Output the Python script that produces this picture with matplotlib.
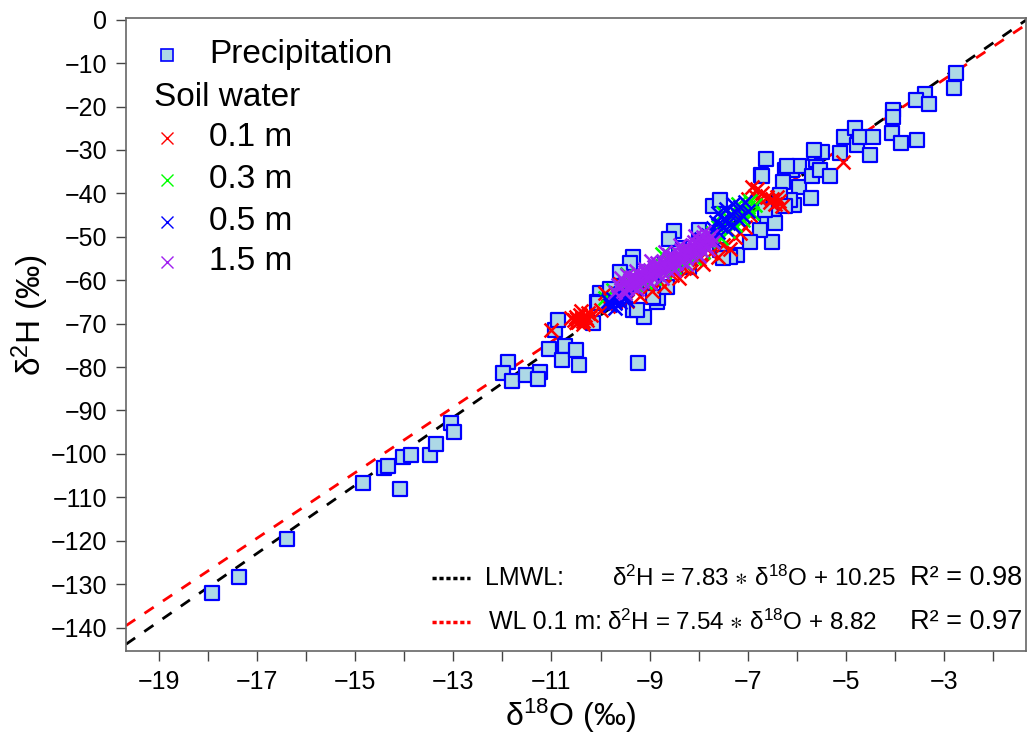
import numpy as np
import matplotlib
matplotlib.use("Agg")
import matplotlib.pyplot as plt

plt.rcParams['font.family'] = ['Liberation Sans', 'DejaVu Sans']
plt.rcParams['mathtext.fontset'] = 'custom'
plt.rcParams['mathtext.rm'] = 'Liberation Sans'
plt.rcParams['mathtext.fallback'] = 'stixsans'

# precipitation samples (d18O, d2H)
prec_x = [-17.92, -17.37, -16.39, -14.85, -14.41, -14.34, -14.09, -14.03, -13.86, -13.48,
          -13.35, -13.05, -12.98, -11.89, -11.98, -11.81, -11.52, -11.23, -11.27, -11.06,
          -10.92, -10.86, -10.72, -10.79, -10.50, -10.43, -9.24, -10.15, -9.33, -9.12,
          -8.85, -8.51, -8.00, -9.33, -9.40, -10.01, -10.08, -9.26, -8.82, -8.65,
          -7.22, -7.35, -7.56, -6.51, -6.61, -6.74, -6.95, -6.63, -6.73, -6.23,
          -6.09, -5.96, -5.96, -6.27, -5.69, -5.71, -5.60, -5.62, -5.48, -5.52,
          -5.31, -5.11, -5.04, -4.80, -4.77, -4.70, -4.51, -4.44, -4.06, -3.88,
          -3.54, -4.03, -4.04, -6.47, -6.06, -6.44, -6.13, -2.74, -2.78, -3.38,
          -3.56, -3.29, -7.70, -7.56, -6.64, -6.71, -6.20, -5.65, -6.33, -6.23,
          -7.51, -8.92, -10.05, -9.60, -9.00, -8.40, -8.20, -7.90, -9.80, -8.60]
prec_y = [-132.0, -128.4, -119.7, -106.8, -103.3, -102.8, -108.1, -100.8, -100.2, -100.2,
          -97.7, -92.9, -94.9, -78.8, -81.3, -83.2, -81.8, -81.1, -82.7, -75.9,
          -71.5, -69.2, -75.1, -78.4, -76.1, -79.6, -79.1, -69.9, -66.8, -68.4,
          -65.0, -48.6, -48.4, -54.6, -56.1, -63.0, -64.9, -66.8, -64.2, -61.5,
          -54.3, -54.6, -53.1, -51.3, -46.5, -48.4, -51.1, -32.1, -35.8, -34.6,
          -34.6, -33.8, -38.5, -37.3, -36.1, -41.0, -32.3, -30.8, -30.4, -34.6,
          -36.1, -30.8, -26.9, -25.0, -28.9, -26.9, -31.2, -26.9, -26.2, -28.5,
          -27.7, -20.8, -22.5, -43.5, -42.7, -46.9, -41.5, -12.3, -15.8, -17.1,
          -18.5, -19.4, -43.0, -41.5, -43.8, -36.1, -33.8, -30.0, -40.4, -43.0,
          -54.9, -63.8, -65.2, -58.0, -60.2, -52.6, -57.0, -51.5, -62.0, -50.5]

# soil water 0.1 m
s01_x = [-10.55, -10.50, -10.45, -10.42, -10.38, -10.35, -10.32, -10.28, -10.25, -10.48,
         -10.40, -10.30, -10.20, -10.60, -10.36, -11.00, -10.00, -9.85, -9.70, -9.55,
         -9.45, -9.30, -9.20, -9.05, -8.95, -8.80, -8.70, -8.55, -8.40, -8.30,
         -8.15, -8.00, -7.90, -7.75, -7.60, -7.50, -7.35, -7.25, -7.15, -7.05,
         -6.95, -6.85, -6.80, -6.75, -6.70, -6.60, -6.55, -6.50, -6.45, -6.40,
         -6.35, -6.30, -6.90, -7.00, -5.05, -9.60, -9.00, -8.50, -8.20, -9.90]
s01_y = [-69.2, -68.4, -69.6, -67.9, -68.8, -70.0, -68.1, -69.1, -67.5, -68.9,
         -67.2, -68.6, -68.0, -68.7, -69.4, -71.5, -66.8, -65.9, -64.9, -63.4,
         -64.8, -62.5, -63.6, -61.2, -62.4, -60.1, -61.3, -58.7, -59.6, -57.1,
         -57.8, -55.2, -56.3, -53.8, -54.6, -51.8, -52.9, -50.0, -49.2, -47.8,
         -45.0, -40.5, -39.0, -41.2, -39.8, -40.9, -42.0, -41.4, -42.5, -40.8,
         -41.8, -43.0, -38.5, -41.2, -32.7, -60.8, -58.6, -55.5, -53.0, -63.0]

# soil water 0.3 m
s03_x = [-9.90, -9.75, -9.60, -9.50, -9.40, -9.30, -9.20, -9.10, -9.00, -8.90,
         -8.80, -8.70, -8.60, -8.50, -8.40, -8.30, -8.20, -8.10, -8.00, -7.90,
         -7.80, -7.70, -7.60, -7.55, -7.45, -7.40, -7.30, -7.25, -7.15, -7.10,
         -7.00, -6.95, -6.90, -6.85, -7.20, -7.50, -8.75, -9.45]
s03_y = [-64.0, -62.3, -61.5, -63.0, -60.2, -61.0, -59.0, -60.5, -57.8, -59.4,
         -56.6, -58.2, -55.5, -57.0, -54.3, -56.0, -53.2, -54.8, -52.0, -53.6,
         -50.9, -49.2, -47.8, -50.2, -46.5, -48.7, -45.2, -47.3, -44.0, -46.1,
         -43.2, -41.8, -44.6, -42.6, -42.5, -44.5, -54.0, -58.6]

# soil water 0.5 m
s05_x = [-9.80, -9.75, -9.70, -9.65, -9.60, -9.55, -9.50, -9.45, -9.70, -9.60,
         -9.85, -9.30, -9.10, -8.90, -8.70, -8.50, -8.30, -8.10, -7.95, -7.80,
         -7.70, -7.65, -7.60, -7.55, -7.50, -7.45, -7.40, -7.35, -7.30, -7.25,
         -7.20, -7.15, -7.10, -7.05, -7.00, -7.60, -7.45, -7.70, -7.30]
s05_y = [-65.6, -64.4, -65.2, -63.9, -65.0, -64.2, -63.4, -64.6, -66.3, -63.0,
         -64.8, -61.8, -59.5, -58.8, -56.0, -55.3, -53.0, -52.3, -50.5, -49.5,
         -48.0, -46.5, -49.0, -47.3, -45.8, -48.3, -46.8, -45.0, -47.5, -44.2,
         -46.0, -43.2, -45.3, -42.0, -44.0, -44.5, -43.5, -50.8, -42.5]

# soil water 1.5 m
s15_x = [-9.55, -9.50, -9.45, -9.40, -9.35, -9.30, -9.25, -9.20, -9.15, -9.10,
         -9.05, -9.00, -8.95, -8.90, -8.85, -8.80, -8.75, -8.70, -8.65, -8.60,
         -8.55, -8.50, -8.45, -8.40, -8.35, -8.30, -8.25, -8.20, -8.15, -8.10,
         -8.05, -8.00, -7.95, -7.90, -7.85, -9.40, -9.20, -9.00, -8.80, -8.60,
         -8.40, -8.20, -8.00, -9.30, -9.10, -8.90, -8.70, -8.50, -8.30, -8.10,
         -9.60, -7.80, -9.70, -9.65, -9.50, -9.35, -9.25, -9.10, -9.00, -8.85,
         -8.75, -8.60, -8.50, -8.35, -8.25, -8.10, -8.00, -7.90, -7.80, -7.75,
         -7.70, -9.45, -9.58, -9.28, -8.98, -8.68, -8.38, -8.08, -7.88]
s15_y = [-62.4, -60.6, -61.9, -60.0, -61.4, -59.3, -60.9, -58.9, -60.2, -58.2,
         -59.8, -57.6, -59.1, -57.0, -58.6, -56.4, -58.0, -55.9, -57.3, -55.1,
         -56.8, -54.7, -56.1, -54.0, -55.6, -53.3, -54.9, -52.9, -54.3, -52.2,
         -53.7, -51.6, -53.0, -51.0, -52.2, -61.0, -59.9, -58.5, -57.2, -56.0,
         -54.9, -53.6, -52.4, -60.3, -59.0, -57.8, -56.6, -55.5, -54.2, -53.0,
         -61.3, -50.8, -62.8, -61.0, -63.0, -59.2, -62.0, -57.3, -60.6, -56.0,
         -59.5, -54.2, -57.6, -53.0, -56.3, -51.3, -54.5, -50.0, -52.8, -49.8,
         -51.2, -58.8, -59.6, -57.8, -55.6, -53.4, -51.8, -49.9, -48.9]

# regression lines
lmwl_slope, lmwl_icpt = 7.83, 10.25
wl_slope, wl_icpt = 7.54, 8.82

xlim = (-19.68, -1.32)
ylim = (-145.4, 0.4)

fig = plt.figure(figsize=(10.27, 7.37), dpi=100)
ax = fig.add_axes([126 / 1027, 86 / 737, 900 / 1027, 633 / 737])

xl = np.array(xlim)
ax.plot(xl, lmwl_slope * xl + lmwl_icpt, color='black', lw=2.0, ls=(0, (4, 4)), zorder=1)
ax.plot(xl, wl_slope * xl + wl_icpt, color='red', lw=2.0, ls=(0, (4, 4)), zorder=1.1)

ax.scatter(prec_x, prec_y, marker='s', s=105, facecolor='lightblue', edgecolor='blue',
           linewidth=1.6, zorder=2)
ax.scatter(s01_x, s01_y, marker='x', s=100, color='red', linewidth=1.8, zorder=3)
ax.scatter(s03_x, s03_y, marker='x', s=100, color='#00FF00', linewidth=1.8, zorder=3)
ax.scatter(s05_x, s05_y, marker='x', s=100, color='blue', linewidth=1.8, zorder=3)
ax.scatter(s15_x, s15_y, marker='x', s=100, color='#A020F0', linewidth=1.8, zorder=3)

ax.set_xlim(xlim)
ax.set_ylim(ylim)
ax.set_xticks(np.arange(-19, -1, 1))
ax.set_xticklabels([('%d' % v).replace('-', '\u2212') if v % 2 else '' for v in range(-19, -1)])
ax.set_yticks(np.arange(-140, 1, 10))
ax.tick_params(direction='out', length=7.5, width=1.0, color='#444444', labelsize=18, pad=6)
for sp in ax.spines.values():
    sp.set_color('#666666')
    sp.set_linewidth(1.2)

ax.set_xlabel('\u03b4$\\mathregular{^{18}}$O (\u2030)', fontsize=23)
ax.set_ylabel('\u03b4$\\mathregular{^{2}}$H (\u2030)', fontsize=24)
ax.xaxis.set_label_coords(0.494, -0.072)
ax.yaxis.set_label_coords(-0.083, 0.53)

# legend, top left
def ax_pos(px, py):
    return (px - 126) / 900, (651 - py) / 633

mx, _ = ax_pos(167, 0)
tx, _ = ax_pos(209, 0)
sx, _ = ax_pos(154, 0)
legend_items = [('Precipitation', 55), ('0.1 m', 138), ('0.3 m', 180), ('0.5 m', 222), ('1.5 m', 262)]
legend_styles = [dict(marker='s', ms=8, mfc='lightblue', mec='blue', mew=1.2),
                 dict(marker='x', ms=9, mec='red', mew=1.0),
                 dict(marker='x', ms=9, mec='#00FF00', mew=1.0),
                 dict(marker='x', ms=9, mec='blue', mew=1.0),
                 dict(marker='x', ms=9, mec='#A020F0', mew=1.0)]
for (lab, py), st in zip(legend_items, legend_styles):
    _, yy = ax_pos(0, py)
    ax.plot([mx], [yy], ls='none', transform=ax.transAxes, **st)
    ax.text(tx, yy, lab, transform=ax.transAxes, fontsize=24, va='center', ha='left')
_, yy = ax_pos(0, 97)
ax.text(sx, yy, 'Soil water', transform=ax.transAxes, fontsize=24, va='center', ha='left')

# legend, bottom right
rows = [(578, 'black', 'LMWL:', 485,
         '\u03b4$\\mathregular{^{2}}$H = 7.83 $\\ast$ \u03b4$\\mathregular{^{18}}$O + 10.25', 612, 'R\u00b2 = 0.98'),
        (622, 'red', 'WL 0.1 m:', 489,
         '\u03b4$\\mathregular{^{2}}$H = 7.54 $\\ast$ \u03b4$\\mathregular{^{18}}$O + 8.82', 607, 'R\u00b2 = 0.97')]
for py, col, name, nx, eq, ex, r2 in rows:
    x0, yy = ax_pos(432, py)
    x1, _ = ax_pos(470, py)
    ax.plot([x0, x1], [yy, yy], color=col, lw=2.5, ls=(0, (1.2, 0.8)), transform=ax.transAxes)
    ax.text(ax_pos(nx, 0)[0], yy, name, transform=ax.transAxes, fontsize=18, va='center')
    ax.text(ax_pos(ex, 0)[0], yy, eq, transform=ax.transAxes, fontsize=17.5, va='center')
    ax.text(ax_pos(1022, 0)[0], yy, r2, transform=ax.transAxes, fontsize=19.5, va='center', ha='right')

fig.savefig('out.png', dpi=100)
